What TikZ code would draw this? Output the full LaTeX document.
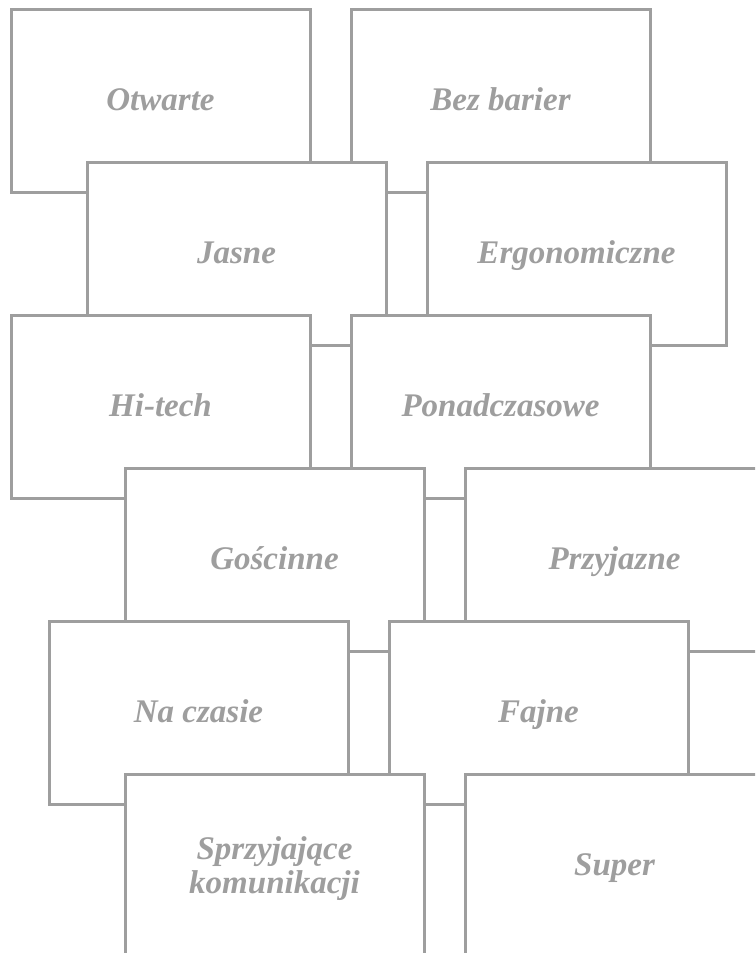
\documentclass[tikz,border=0pt]{standalone}
\usepackage{fontspec}
\setmainfont{Liberation Serif}
\usepackage{xcolor}
\definecolor{cardgray}{HTML}{9E9E9E}

\begin{document}
\begin{tikzpicture}[
      x=1pt, y=-1pt,
      font=\fontsize{33}{34}\selectfont\bfseries\itshape,
      card/.style = {shape=rectangle, draw=cardgray, fill=white,
        line width=3pt, text=cardgray, align=center,
        text height=27pt, text depth=8pt,
        minimum width=299pt, minimum height=183pt, inner sep=0pt},
      twoline/.style = {text height=, text depth=-8pt}
    ]
      \useasboundingbox (0,0) rectangle (755,953);
      \clip (0,0) rectangle (755,953);

      \node[card] (otwarte)   at (160.5,100.5) {Otwarte};
      \node[card] (bezbarier) at (500.5,100.5) {Bez barier};

      \node[card] (jasne)     at (236.5,253.5) {Jasne};
      \node[card] (ergo)      at (576.5,253.5) {Ergonomiczne};

      \node[card] (hitech)    at (160.5,406.5) {Hi-tech};
      \node[card] (ponad)     at (500.5,406.5) {Ponadczasowe};

      \node[card] (goscinne)  at (274.5,559.5) {Gościnne};
      \node[card] (przyjazne) at (614.5,559.5) {Przyjazne};

      \node[card] (naczasie)  at (198.5,712.5) {Na czasie};
      \node[card] (fajne)     at (538.5,712.5) {Fajne};

      \node[card, twoline] (sprzyj) at (274.5,865.5) {Sprzyjające\\komunikacji};
      \node[card] (super)     at (614.5,865.5) {Super};
  \end{tikzpicture}
\end{document}
